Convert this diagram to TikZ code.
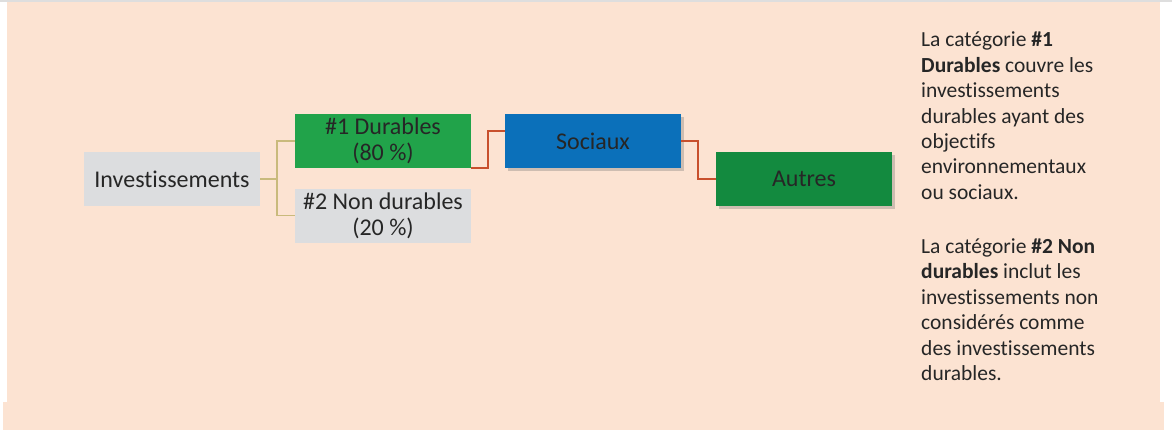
\documentclass[tikz,border=0pt]{standalone}
\usepackage{fontspec}
\setmainfont{Carlito}[RawFeature=-liga]
\usetikzlibrary{shadows}
\definecolor{peach}{HTML}{FCE3D2}
\definecolor{boxgray}{HTML}{DCDDDF}
\definecolor{durgreen}{HTML}{21A34A}
\definecolor{socblue}{HTML}{0B70BA}
\definecolor{autgreen}{HTML}{138A3F}
\definecolor{tanline}{HTML}{C9BA7C}
\definecolor{redline}{HTML}{C8502D}
\definecolor{txt}{HTML}{262626}
\tikzset{
  box/.style={minimum width=176pt, minimum height=54pt, inner sep=0pt, align=center,
    text=txt, font=\fontsize{24}{26}\selectfont},
  shad/.style={drop shadow={shadow xshift=3pt, shadow yshift=-3pt, opacity=0.3, fill=black!60}},
  tanconn/.style={draw=tanline, line width=1.8pt},
  redconn/.style={draw=redline, line width=1.8pt},
  note/.style={anchor=north west, inner sep=0pt, align=left, text=txt,
    font=\fontsize{21.5}{25.4}\selectfont}
}
\begin{document}
\begin{tikzpicture}[x=1pt,y=-1pt]
\useasboundingbox (0,0) rectangle (1172,432);
\fill[white] (0,0) rectangle (1172,432);
\fill[black!13] (0,0) rectangle (1172,1.5);
\fill[peach] (7,1.5) rectangle (1160,402);
\fill[peach] (3,402) rectangle (1164,430);
\node[box, fill=boxgray] (inv) at (172,179) {Investissements};
\node[box, fill=durgreen] (d1) at (383,141) {\#1 Durables\\(80 \%)};
\node[box, fill=boxgray] (d2) at (383,215.5) {\#2 Non durables\\(20 \%)};
\node[box, fill=socblue, shad] (soc) at (593,141) {Sociaux};
\node[box, fill=autgreen, shad] (aut) at (804,179) {Autres};
\draw[tanconn] (inv.east) -- ++(17,0) coordinate (tj) |- (d1.west);
\draw[tanconn] (tj) |- (d2.west);
\draw[redconn] (d1.south east) -- ++(17,0) |- ([yshift=10pt]soc.west);
\draw[redconn] (soc.east) -- ++(17,0) |- (aut.west);
\node[note] (n1) at (921,32) {La catégorie \textbf{\#1}\\\textbf{Durables} couvre les\\investissements\\durables ayant des\\objectifs\\environnementaux\\ou sociaux.};
\node[note] (n2) at (921,238.5) {La catégorie \textbf{\#2 Non}\\\textbf{durables} inclut les\\investissements non\\considérés comme\\des investissements\\durables.};
\end{tikzpicture}
\end{document}
